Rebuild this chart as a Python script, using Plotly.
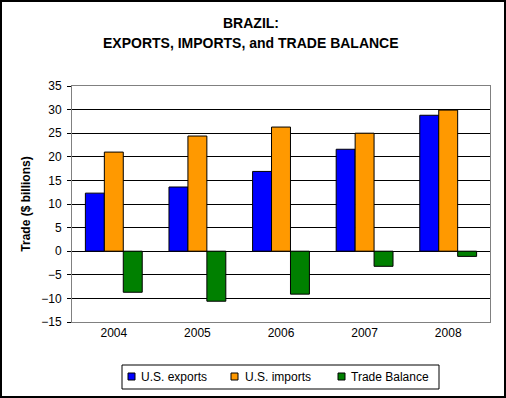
import plotly.graph_objects as go

years = ["2004", "2005", "2006", "2007", "2008"]
us_exports = [12.3, 13.6, 16.9, 21.6, 28.8]
us_imports = [21.0, 24.4, 26.3, 25.0, 29.9]
trade_balance = [-8.7, -10.6, -9.1, -3.2, -1.1]
y_ticks = [-15, -10, -5, 0, 5, 10, 15, 20, 25, 30, 35]
series_names = ["U.S. exports", "U.S. imports", "Trade Balance"]
series_colors = ["#0000FF", "#FF9900", "#008000"]
title_lines = ["BRAZIL:", "EXPORTS, IMPORTS, and TRADE BALANCE"]

FONT = "Liberation Sans, Arial, sans-serif"
W, H = 506, 398
L, R, T, B = 72, 16, 86, 76
PW, PH = W - L - R, H - T - B


def px_x(x):
    return (x - L) / PW


def px_y(y):
    return (H - B - y) / PH


fig = go.Figure()
for name, vals, col in zip(series_names, [us_exports, us_imports, trade_balance], series_colors):
    fig.add_trace(go.Bar(x=years, y=vals, name=name, showlegend=False,
                         marker=dict(color=col, line=dict(color="black", width=1))))

shapes = [dict(type="rect", xref="paper", yref="paper",
               x0=px_x(1), x1=px_x(W - 1), y0=px_y(H - 1), y1=px_y(1),
               line=dict(color="black", width=2), layer="above")]
annotations = []

# title
for txt, yc in zip(title_lines, [23, 43]):
    annotations.append(dict(text="<b>" + txt + "</b>", xref="paper", yref="paper",
                            x=px_x(250.5), y=px_y(yc), xanchor="center", yanchor="middle",
                            showarrow=False, font=dict(family=FONT, size=14, color="black")))

# legend box
shapes.append(dict(type="rect", xref="paper", yref="paper",
                   x0=px_x(122), x1=px_x(439), y0=px_y(389), y1=px_y(365),
                   line=dict(color="black", width=1), fillcolor="white", layer="above"))
sq_x = [128, 231, 338]
tx_x = [138.5, 242.5, 348.5]
for name, col, sx, tx in zip(series_names, series_colors, sq_x, tx_x):
    shapes.append(dict(type="rect", xref="paper", yref="paper",
                       x0=px_x(sx), x1=px_x(sx + 7), y0=px_y(380), y1=px_y(373),
                       line=dict(color="black", width=1), fillcolor=col, layer="above"))
    annotations.append(dict(text=name, xref="paper", yref="paper", x=px_x(tx), y=px_y(377),
                            xanchor="left", yanchor="middle", showarrow=False,
                            font=dict(family=FONT, size=12, color="black")))

fig.update_layout(
    width=W, height=H,
    margin=dict(l=L, r=R, t=T, b=B),
    paper_bgcolor="white", plot_bgcolor="white",
    font=dict(family=FONT, size=12, color="black"),
    barmode="group", bargap=0.32, bargroupgap=0,
    showlegend=False,
    xaxis=dict(showgrid=False, showline=True, linecolor="#808080", linewidth=1, mirror=True,
               ticks="", tickfont=dict(size=12)),
    yaxis=dict(range=[-15, 35], tickvals=y_ticks, showgrid=True, gridcolor="black", gridwidth=1,
               zeroline=True, zerolinecolor="black", zerolinewidth=1,
               showline=True, linecolor="#808080", linewidth=1, mirror=True,
               ticks="outside", ticklen=4, tickcolor="black", tickfont=dict(size=12),
               ticklabelstandoff=3,
               title=dict(text="<b>Trade ($ billions)</b>", font=dict(size=12), standoff=8)),
    shapes=shapes,
    annotations=annotations,
)

fig.write_html("out.html", config={"displayModeBar": False},
               post_script="document.body.style.margin='0';document.body.style.overflow='hidden';")
